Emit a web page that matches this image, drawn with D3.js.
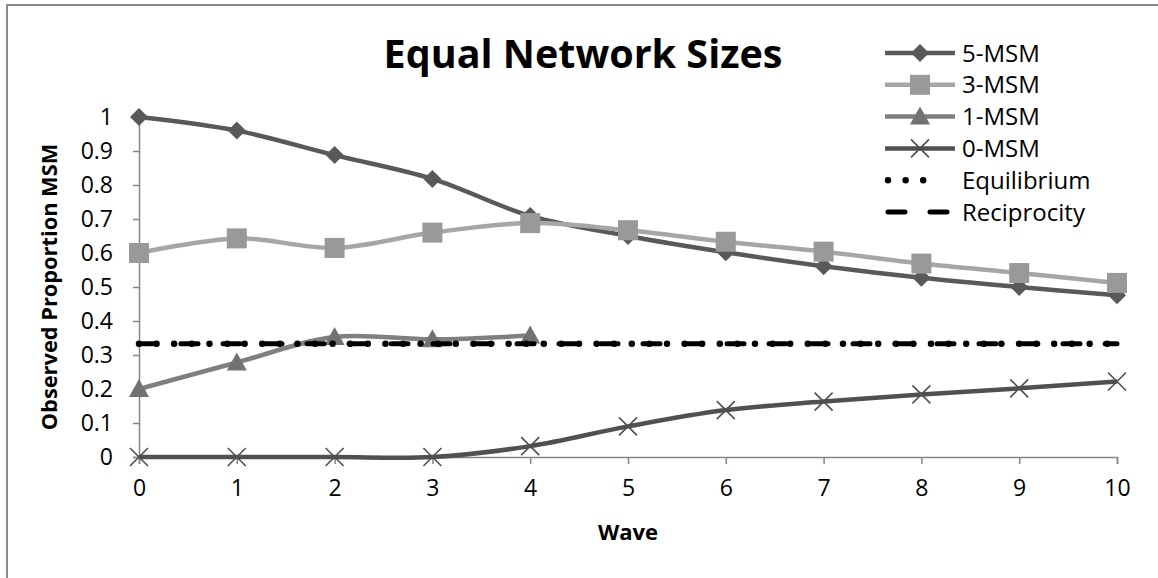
<!DOCTYPE html>
<html>
<head>
<meta charset="utf-8">
<script src="https://cdn.jsdelivr.net/npm/d3@7"></script>
<style>
  body { margin: 0; background: #fff; }
  svg { display: block; font-family: "Open Sans", "Noto Sans", sans-serif; }
</style>
</head>
<body>
<svg width="1158" height="578"></svg>
<script>
// data
const waves = [0, 1, 2, 3, 4, 5, 6, 7, 8, 9, 10];
const msm5 = [1, 0.96, 0.888, 0.818, 0.709, 0.65, 0.602, 0.561, 0.527, 0.5, 0.476];
const msm3 = [0.6, 0.643, 0.615, 0.66, 0.688, 0.667, 0.633, 0.604, 0.569, 0.541, 0.512];
const msm1 = [0.2, 0.278, 0.353, 0.346, 0.357];
const msm0 = [0, 0, 0, 0, 0.032, 0.09, 0.138, 0.163, 0.184, 0.202, 0.222];
const equilibrium = [0.333, 0.333, 0.333, 0.333, 0.333, 0.333, 0.333, 0.333, 0.333, 0.333, 0.333];
const reciprocity = [0.333, 0.333, 0.333, 0.333, 0.333, 0.333, 0.333, 0.333, 0.333, 0.333, 0.333];
const yTicks = [0, 0.1, 0.2, 0.3, 0.4, 0.5, 0.6, 0.7, 0.8, 0.9, 1];

const series = [
  { name: "5-MSM", values: msm5, stroke: "#595959", fill: "#595959", marker: "diamond" },
  { name: "3-MSM", values: msm3, stroke: "#a6a6a6", fill: "#999999", marker: "square" },
  { name: "1-MSM", values: msm1, stroke: "#7f7f7f", fill: "#727272", marker: "triangle" },
  { name: "0-MSM", values: msm0, stroke: "#505050", fill: "#505050", marker: "x" },
  { name: "Equilibrium", values: equilibrium, stroke: "#000", marker: null, dash: "0 17.6", width: 6.5 },
  { name: "Reciprocity", values: reciprocity, stroke: "#000", marker: null, dash: "17 25", width: 5 }
];

const svg = d3.select("svg");
const axisColor = "#868686";

// outer chart border (only top and left visible)
svg.append("rect")
  .attr("x", 7).attr("y", 5)
  .attr("width", 1200).attr("height", 620)
  .attr("fill", "#fff")
  .attr("stroke", "#8c8c8c").attr("stroke-width", 2);

const x = d3.scaleLinear().domain([0, 10]).range([139, 1117]);
const y = d3.scaleLinear().domain([0, 1]).range([457, 117]);

// axes
const gx = svg.append("g")
  .attr("transform", `translate(0,${y(0)})`)
  .call(d3.axisBottom(x).tickValues(waves).tickSize(7).tickPadding(12).tickFormat(d3.format("d")));
const gy = svg.append("g")
  .attr("transform", `translate(${x(0)},0)`)
  .call(d3.axisLeft(y).tickValues(yTicks).tickSize(6).tickPadding(20).tickFormat(d => d === 0 || d === 1 ? d : d3.format(".1f")(d)));

[gx, gy].forEach(g => {
  g.select(".domain").attr("stroke", axisColor).attr("stroke-width", 1.5);
  g.selectAll(".tick line").attr("stroke", axisColor).attr("stroke-width", 1.5);
  g.selectAll(".tick text").attr("fill", "#000").attr("font-size", 23).attr("font-family", "'Open Sans', sans-serif");
});
gx.selectAll(".tick text").attr("dy", "0.85em");

// axis titles
svg.append("text")
  .attr("x", (x(0) + x(10)) / 2).attr("y", 540)
  .attr("text-anchor", "middle")
  .attr("font-weight", "bold").attr("font-size", 22)
  .text("Wave");
svg.append("text")
  .attr("transform", `translate(57,${(y(0) + y(1)) / 2}) rotate(-90)`)
  .attr("text-anchor", "middle")
  .attr("font-weight", "bold").attr("font-size", 21.8)
  .text("Observed Proportion MSM");

// title
svg.append("text")
  .attr("x", 583).attr("y", 68)
  .attr("text-anchor", "middle")
  .attr("font-weight", "bold").attr("font-size", 39.5)
  .text("Equal Network Sizes");

// smooth lines like the spreadsheet
const line = d3.line()
  .curve(d3.curveCatmullRom)
  .x((d, i) => x(waves[i]))
  .y(d => y(d));

function drawMarker(g, s) {
  if (s.marker === "diamond") {
    g.append("path").attr("d", "M0,-9L9,0L0,9L-9,0Z").attr("fill", s.fill);
  } else if (s.marker === "square") {
    g.append("rect").attr("x", -10).attr("y", -10).attr("width", 20).attr("height", 20).attr("fill", s.fill);
  } else if (s.marker === "triangle") {
    g.append("path").attr("d", "M0,-10L10,8L-10,8Z").attr("fill", s.fill);
  } else if (s.marker === "x") {
    g.append("path").attr("d", "M-9,-9L9,9M9,-9L-9,9")
      .attr("stroke", s.fill).attr("stroke-width", 1.6).attr("fill", "none");
  }
}

series.forEach(s => {
  const g = svg.append("g");
  g.append("path")
    .attr("d", line(s.values))
    .attr("fill", "none")
    .attr("stroke", s.stroke)
    .attr("stroke-width", s.width || 4.5)
    .attr("stroke-linecap", s.dash ? "round" : "butt")
    .attr("stroke-dasharray", s.dash || null);
  if (s.marker) {
    g.selectAll("g.m")
      .data(s.values)
      .enter().append("g")
      .attr("class", "m")
      .attr("transform", (d, i) => `translate(${x(waves[i])},${y(d)})`)
      .each(function() { drawMarker(d3.select(this), s); });
  }
});

// legend
const legend = svg.append("g").attr("transform", "translate(885,53)");
series.forEach((s, i) => {
  const row = legend.append("g").attr("transform", `translate(0,${i * 31.8})`);
  const len = s.dash ? (s.name === "Equilibrium" ? 54 : 64) : 70;
  row.append("line")
    .attr("x1", s.dash ? 3 : 0).attr("x2", len).attr("y1", 0).attr("y2", 0)
    .attr("stroke", s.stroke)
    .attr("stroke-width", s.width || 4.5)
    .attr("stroke-linecap", s.dash ? "round" : "butt")
    .attr("stroke-dasharray", s.dash || null);
  if (s.marker) {
    const m = row.append("g").attr("transform", "translate(35,0)");
    drawMarker(m, s);
  }
  row.append("text")
    .attr("x", 77).attr("y", 0).attr("dy", "0.36em")
    .attr("font-size", 24)
    .text(s.name);
});
</script>
</body>
</html>
